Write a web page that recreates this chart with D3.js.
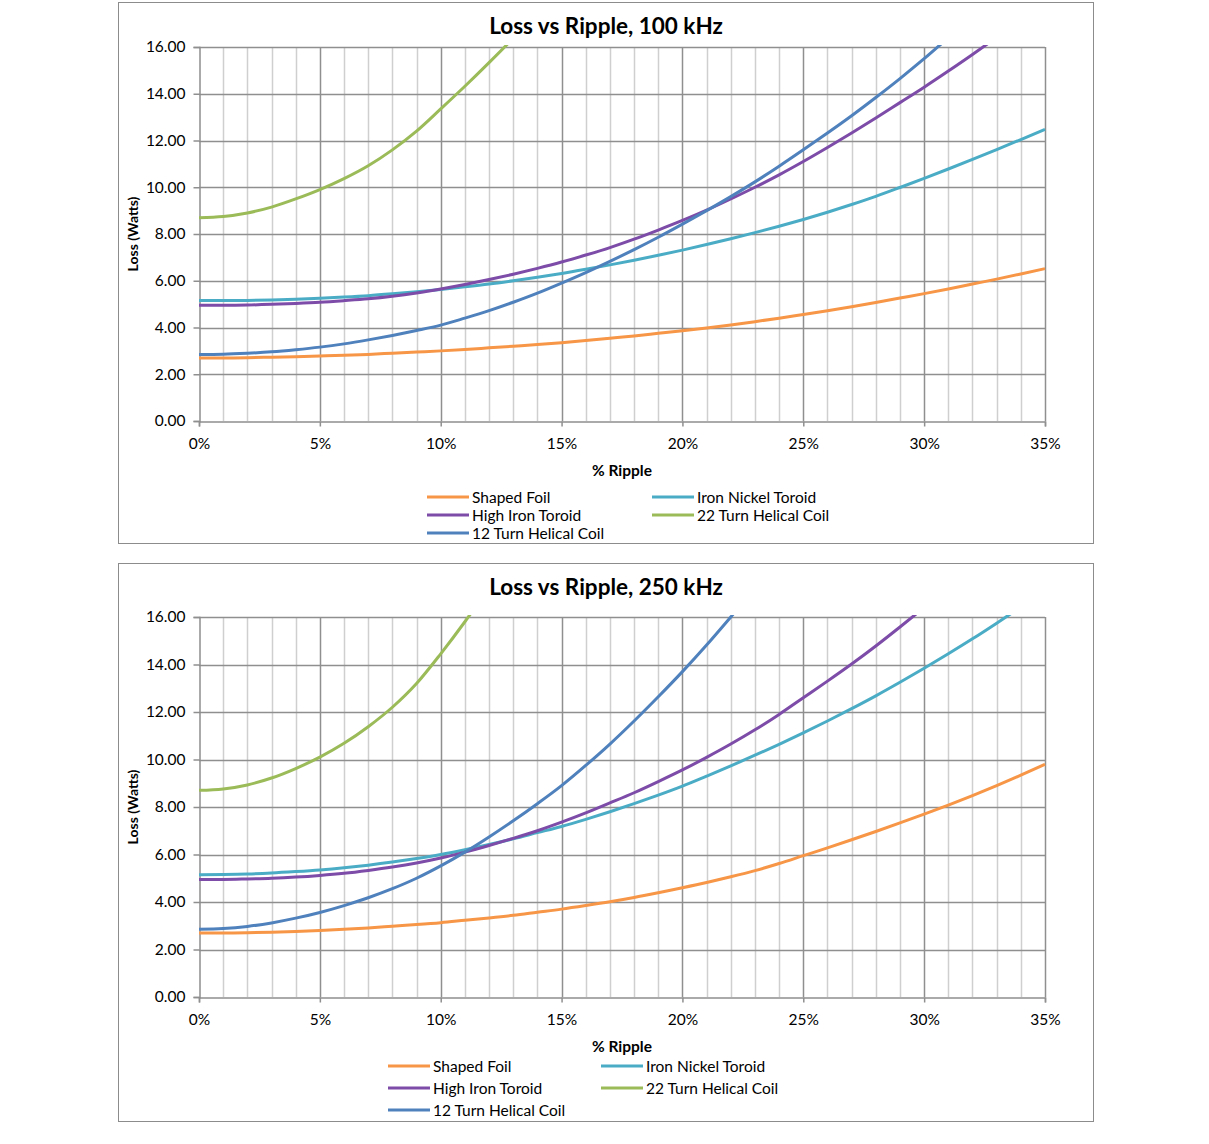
<!DOCTYPE html>
<html>
<head>
<meta charset="utf-8">
<script src="https://cdn.jsdelivr.net/npm/d3@7"></script>
<style>
    body { margin: 0; background: #fff; }
    svg text { font-family: Lato, "Open Sans", "Noto Sans", sans-serif; fill: #000; }
</style>
</head>
<body>
<div id="chart"></div>
<script>
// ripple in % (0..35, step 1)
const ripple = d3.range(0, 36);

const seriesNames = ['Shaped Foil', 'Iron Nickel Toroid', 'High Iron Toroid', '22 Turn Helical Coil', '12 Turn Helical Coil'];
const seriesColors = ['#F79646', '#4BACC6', '#7D4BA8', '#9BBB59', '#4F81BD'];

const yTicks = [0, 2, 4, 6, 8, 10, 12, 14, 16];
const xTicks = [0, 5, 10, 15, 20, 25, 30, 35];

// 100 kHz
const foil100 = [2.70, 2.70, 2.71, 2.73, 2.75, 2.78, 2.81, 2.85, 2.90, 2.95, 3.00, 3.06, 3.13, 3.20, 3.27, 3.35, 3.44, 3.54, 3.64, 3.75, 3.86, 3.98, 4.11, 4.25, 4.40, 4.56, 4.72, 4.89, 5.07, 5.26, 5.45, 5.65, 5.86, 6.07, 6.29, 6.52];
const ironNickel100 = [5.15, 5.15, 5.16, 5.18, 5.21, 5.25, 5.30, 5.36, 5.44, 5.53, 5.63, 5.74, 5.86, 6.00, 6.15, 6.31, 6.49, 6.68, 6.88, 7.09, 7.31, 7.55, 7.80, 8.06, 8.33, 8.62, 8.93, 9.26, 9.61, 9.99, 10.38, 10.78, 11.19, 11.61, 12.04, 12.48];
const highIron100 = [4.95, 4.95, 4.96, 4.99, 5.03, 5.08, 5.15, 5.23, 5.34, 5.48, 5.65, 5.84, 6.05, 6.28, 6.53, 6.80, 7.10, 7.42, 7.78, 8.17, 8.58, 9.02, 9.50, 10.00, 10.53, 11.10, 11.70, 12.32, 12.96, 13.62, 14.28, 14.97, 15.68, 16.42, 17.20, 18.00];
const helical22_100 = [8.70, 8.75, 8.90, 9.15, 9.50, 9.90, 10.37, 10.92, 11.60, 12.40, 13.35, 14.32, 15.33, 16.38, 17.50];
const helical12_100 = [2.85, 2.86, 2.90, 2.96, 3.05, 3.16, 3.30, 3.47, 3.66, 3.87, 4.10, 4.40, 4.72, 5.08, 5.47, 5.90, 6.35, 6.83, 7.33, 7.86, 8.42, 9.00, 9.60, 10.23, 10.90, 11.60, 12.32, 13.06, 13.84, 14.65, 15.50, 16.40];

// 250 kHz
const foil250 = [2.70, 2.70, 2.71, 2.73, 2.76, 2.80, 2.85, 2.91, 2.98, 3.05, 3.13, 3.23, 3.33, 3.44, 3.57, 3.70, 3.85, 4.01, 4.19, 4.39, 4.60, 4.82, 5.06, 5.32, 5.62, 5.95, 6.28, 6.62, 6.97, 7.33, 7.70, 8.08, 8.48, 8.90, 9.34, 9.80];
const ironNickel250 = [5.15, 5.16, 5.18, 5.22, 5.28, 5.35, 5.44, 5.55, 5.68, 5.83, 6.00, 6.20, 6.42, 6.66, 6.92, 7.18, 7.48, 7.80, 8.14, 8.50, 8.88, 9.30, 9.73, 10.18, 10.64, 11.12, 11.62, 12.14, 12.68, 13.25, 13.84, 14.45, 15.08, 15.74, 16.42, 17.10];
const highIron250 = [4.95, 4.95, 4.97, 5.00, 5.05, 5.12, 5.21, 5.33, 5.47, 5.64, 5.85, 6.10, 6.38, 6.68, 7.00, 7.36, 7.75, 8.17, 8.60, 9.07, 9.56, 10.09, 10.65, 11.25, 11.90, 12.60, 13.30, 14.02, 14.78, 15.58, 16.40];
const helical22_250 = [8.70, 8.76, 8.93, 9.22, 9.62, 10.10, 10.68, 11.38, 12.20, 13.20, 14.45, 15.80, 17.25];
const helical12_250 = [2.85, 2.88, 2.97, 3.12, 3.32, 3.56, 3.85, 4.18, 4.56, 5.00, 5.52, 6.10, 6.74, 7.42, 8.14, 8.90, 9.75, 10.65, 11.62, 12.64, 13.70, 14.82, 16.00, 17.20];

const charts = [
    {
        title: 'Loss vs Ripple, 100 kHz',
        series: [foil100, ironNickel100, highIron100, helical22_100, helical12_100],
        frame: { x: 118.5, y: 2.5, w: 975, h: 541 },
        plot: { x: 199, y: 47, w: 846, h: 374 },
        titleY: 34, xTitleY: 476,
        legend: { x1: 427, x2: 652, rows: [497, 515, 533] }
    },
    {
        title: 'Loss vs Ripple, 250 kHz',
        series: [foil250, ironNickel250, highIron250, helical22_250, helical12_250],
        frame: { x: 118.5, y: 563.5, w: 975, h: 558 },
        plot: { x: 199, y: 617, w: 846, h: 380 },
        titleY: 595, xTitleY: 1052,
        legend: { x1: 388, x2: 601, rows: [1066, 1088, 1110] }
    }
];

const svg = d3.select("#chart")
    .append("svg")
    .attr("width", 1209)
    .attr("height", 1144);

svg.append("rect").attr("width", 1209).attr("height", 1144).attr("fill", "#fff");

charts.forEach((c, ci) => drawChart(c, ci));

function drawChart(c, ci) {
    const p = c.plot;

    svg.append("rect")
        .attr("x", c.frame.x).attr("y", c.frame.y)
        .attr("width", c.frame.w).attr("height", c.frame.h)
        .attr("fill", "#fff")
        .attr("stroke", "#8c8c8c")
        .attr("stroke-width", 1);

    const x = d3.scaleLinear().domain([0, 35]).range([p.x, p.x + p.w]);
    const y = d3.scaleLinear().domain([0, 16]).range([p.y + p.h, p.y]);

    // minor vertical gridlines every 1%
    svg.append("g")
        .selectAll("line")
        .data(ripple.filter(d => d % 5 !== 0))
        .enter()
        .append("line")
        .attr("x1", d => Math.round(x(d)) + 0.5).attr("x2", d => Math.round(x(d)) + 0.5)
        .attr("y1", p.y).attr("y2", p.y + p.h)
        .attr("stroke", "#cfcfcf").attr("stroke-width", 1.5);

    // major vertical gridlines every 5%
    svg.append("g")
        .selectAll("line")
        .data(xTicks.slice(1))
        .enter()
        .append("line")
        .attr("x1", d => Math.round(x(d)) + 0.5).attr("x2", d => Math.round(x(d)) + 0.5)
        .attr("y1", p.y).attr("y2", p.y + p.h)
        .attr("stroke", "#8f8f8f").attr("stroke-width", 1.5);

    // horizontal gridlines
    svg.append("g")
        .selectAll("line")
        .data(yTicks.slice(1))
        .enter()
        .append("line")
        .attr("x1", p.x).attr("x2", p.x + p.w)
        .attr("y1", d => Math.round(y(d)) + 0.5).attr("y2", d => Math.round(y(d)) + 0.5)
        .attr("stroke", "#8f8f8f").attr("stroke-width", 1.5);

    // axes
    const yAxis = svg.append("g")
        .attr("transform", `translate(${p.x + 0.5},0)`)
        .call(d3.axisLeft(y).tickValues(yTicks).tickFormat(d3.format(".2f")).tickSize(6).tickPadding(8));
    const xAxis = svg.append("g")
        .attr("transform", `translate(0,${Math.round(p.y + p.h) + 0.5})`)
        .call(d3.axisBottom(x).tickValues(xTicks).tickFormat(d => d + "%").tickSize(5).tickPadding(11));

    [xAxis, yAxis].forEach(a => {
        a.select(".domain").attr("stroke", "#8f8f8f").attr("stroke-width", 1.5);
        a.selectAll(".tick line").attr("stroke", "#8f8f8f").attr("stroke-width", 1.5);
        a.selectAll("text").attr("font-size", 15.5).attr("fill", "#000")
            .style("font-family", 'Lato, "Open Sans", sans-serif');
    });

    // clip
    svg.append("clipPath").attr("id", "clip" + ci)
        .append("rect")
        .attr("x", p.x).attr("y", p.y - 2)
        .attr("width", p.w + 2).attr("height", p.h + 2);

    const line = d3.line()
        .x((d, i) => x(ripple[i]))
        .y(d => y(d))
        .curve(d3.curveMonotoneX);

    svg.append("g")
        .attr("clip-path", `url(#clip${ci})`)
        .selectAll("path")
        .data(c.series)
        .enter()
        .append("path")
        .attr("fill", "none")
        .attr("stroke", (d, i) => seriesColors[i])
        .attr("stroke-width", 3)
        .attr("d", d => line(d));

    // titles
    svg.append("text")
        .attr("x", 606).attr("y", c.titleY)
        .attr("text-anchor", "middle")
        .attr("font-size", 22.5).attr("font-weight", "bold")
        .text(c.title);

    svg.append("text")
        .attr("transform", `translate(138,${p.y + p.h / 2}) rotate(-90)`)
        .attr("text-anchor", "middle")
        .attr("font-size", 14).attr("font-weight", "bold")
        .text("Loss (Watts)");

    svg.append("text")
        .attr("x", 622).attr("y", c.xTitleY)
        .attr("text-anchor", "middle")
        .attr("font-size", 15.5).attr("font-weight", "bold")
        .text("% Ripple");

    // legend laid out in two columns like Excel
    const lg = c.legend;
    const legendPos = [
        [lg.x1, lg.rows[0]], [lg.x2, lg.rows[0]],
        [lg.x1, lg.rows[1]], [lg.x2, lg.rows[1]],
        [lg.x1, lg.rows[2]]
    ];
    const legendOrder = [0, 1, 2, 3, 4];
    const items = svg.append("g")
        .selectAll("g")
        .data(legendOrder)
        .enter()
        .append("g")
        .attr("transform", (d, i) => `translate(${legendPos[i][0]},${legendPos[i][1]})`);

    items.append("line")
        .attr("x1", 0).attr("x2", 42)
        .attr("y1", 0).attr("y2", 0)
        .attr("stroke", d => seriesColors[d])
        .attr("stroke-width", 3);

    items.append("text")
        .attr("x", 45).attr("y", 5.5)
        .attr("font-size", 15.5)
        .text(d => seriesNames[d]);
}
</script>
</body>
</html>
